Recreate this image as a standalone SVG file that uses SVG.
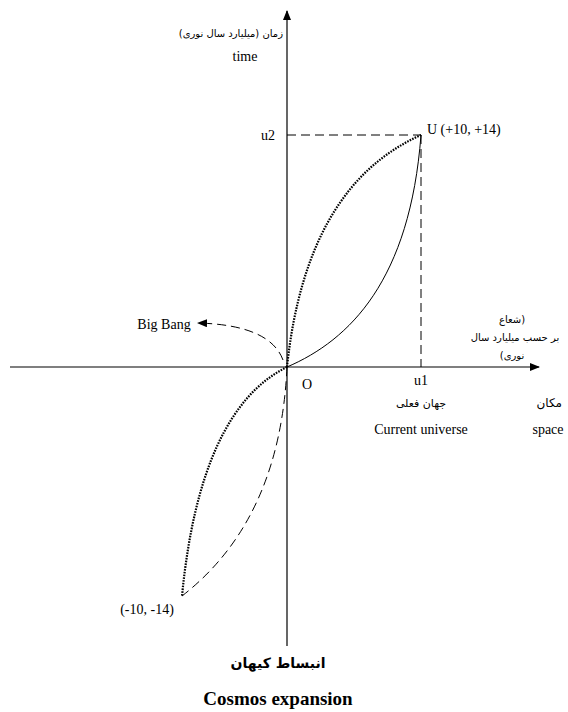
<svg xmlns="http://www.w3.org/2000/svg" width="568" height="712" viewBox="0 0 568 712">
<style>
text{font-family:"Liberation Serif","Times New Roman",serif;font-size:14px;fill:#000}
.fa{font-family:"DejaVu Sans","Liberation Serif",sans-serif;font-size:10px;direction:rtl;unicode-bidi:embed}
.b{font-weight:bold}
.axis{stroke:#000;stroke-width:1.2;fill:none}
.dash{stroke:#000;stroke-width:1;fill:none;stroke-dasharray:9 5}
.dot{stroke:#000;stroke-width:2.2;fill:none;stroke-dasharray:1.6 1.2}
.solid{stroke:#000;stroke-width:1;fill:none}
</style>
<defs>
<marker id="ah" markerWidth="10" markerHeight="8" refX="9" refY="4" orient="auto" markerUnits="userSpaceOnUse">
<path d="M0,0 L10,4 L0,8 Z" fill="#000"/>
</marker>
</defs>
<g id="connectors">
<line class="axis" x1="287" y1="646" x2="287" y2="11" marker-end="url(#ah)"/>
<line class="axis" x1="10" y1="367" x2="539" y2="367" marker-end="url(#ah)"/>
<line class="dash" x1="287" y1="135" x2="421" y2="135"/>
<line class="dash" x1="421" y1="135" x2="421" y2="367"/>
<path class="dot" d="M287,367 Q306,186 421,135"/>
<path class="solid" d="M287,367 C350,340 410,280 421,135"/>
<path class="dot" d="M287,367 Q200,410 182,596"/>
<path class="dash" d="M287,367 Q280,520 182,596"/>
<path class="dash" d="M283,360 Q270,325 198,323" marker-end="url(#ah)"/>
</g>
<g id="node-time-label">
<text class="fa" x="283" y="37" text-anchor="start">زمان (میلیارد سال نوری)</text>
<text x="245" y="61" text-anchor="middle">time</text>
</g>
<g id="node-u2"><text x="275" y="140" text-anchor="end">u2</text></g>
<g id="node-U"><text x="427" y="134">U (+10, +14)</text></g>
<g id="node-bigbang"><text x="164" y="329" text-anchor="middle">Big Bang</text></g>
<g id="node-O"><text x="307" y="389" text-anchor="middle">O</text></g>
<g id="node-radius-label">
<text class="fa" x="512" y="323" text-anchor="middle">(شعاع</text>
<text class="fa" x="515" y="341" text-anchor="middle">بر حسب میلیارد سال</text>
<text class="fa" x="512" y="359" text-anchor="middle">نوری)</text>
</g>
<g id="node-u1">
<text x="421" y="385" text-anchor="middle">u1</text>
<text class="fa" x="421" y="407" text-anchor="middle" style="font-size:11px">جهان فعلی</text>
<text x="421" y="434" text-anchor="middle">Current universe</text>
</g>
<g id="node-space">
<text class="fa" x="562" y="407" text-anchor="start" style="font-size:12px">مکان</text>
<text x="548" y="434" text-anchor="middle">space</text>
</g>
<g id="node-neg"><text x="147" y="614" text-anchor="middle">(-10, -14)</text></g>
<g id="node-title">
<text class="fa b" x="278" y="668" text-anchor="middle" style="font-size:14px">انبساط کیهان</text>
<text class="b" x="278" y="705" text-anchor="middle" style="font-size:19px">Cosmos expansion</text>
</g>
</svg>
